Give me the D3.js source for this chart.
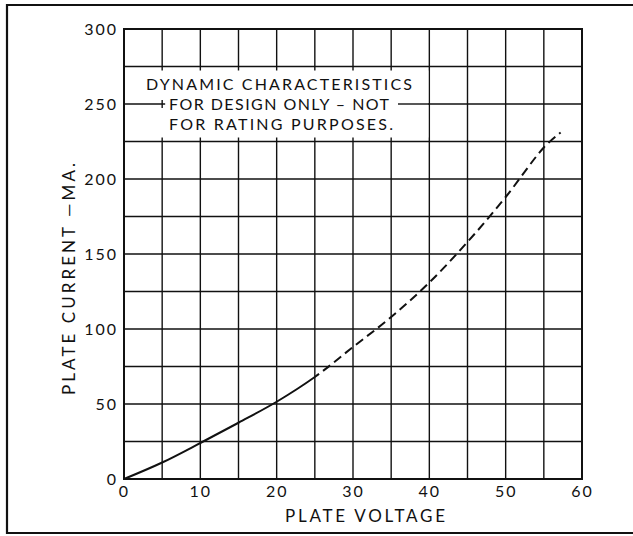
<!DOCTYPE html>
<html>
<head>
<meta charset="utf-8">
<script src="https://cdn.jsdelivr.net/npm/d3@7"></script>
<style>
  body { margin: 0; background: #fff; }
  text { font-family: Lato, "Liberation Sans", sans-serif; font-weight: 400; fill: #111; }
</style>
</head>
<body>
<div class="chart"></div>
<script>
// plate current vs plate voltage
const volts = [0, 5, 10, 15, 20, 25, 30, 35, 40, 45, 50, 55, 57.2];
const plateMa = [0, 11, 24, 37.5, 51.5, 68, 88, 108, 131, 158, 188, 221, 231];
const solidUpTo = 25; // dashed beyond this voltage

const xTicks = [0, 10, 20, 30, 40, 50, 60];
const yTicks = [0, 50, 100, 150, 200, 250, 300];
const noteLines = ['DYNAMIC CHARACTERISTICS', 'FOR DESIGN ONLY \u2013 NOT', 'FOR RATING PURPOSES.'];

const width = 633;
const height = 536;
const ff = 'Lato, "Liberation Sans", sans-serif';

const svg = d3.select('.chart')
  .append('svg')
  .attr('width', width)
  .attr('height', height)

const x = d3.scaleLinear().domain([0, 60]).range([124, 582]);
const y = d3.scaleLinear().domain([0, 300]).range([479, 29]);

// outer frame (right side runs off the page)
svg.append('path')
  .attr('d', 'M640,5 H7 V533 H640')
  .attr('fill', 'none')
  .attr('stroke', '#111')
  .attr('stroke-width', 2.2)

// grid every 5 V and 25 mA
const grid = svg.append('g')
grid.selectAll('.vline')
  .data(d3.range(5, 60, 5))
  .enter()
  .append('line')
  .attr('x1', d => x(d)).attr('x2', d => x(d))
  .attr('y1', y(0)).attr('y2', y(300))
  .attr('stroke', '#111').attr('stroke-width', 1.4)
grid.selectAll('.hline')
  .data(d3.range(25, 300, 25))
  .enter()
  .append('line')
  .attr('x1', x(0)).attr('x2', x(60))
  .attr('y1', d => y(d)).attr('y2', d => y(d))
  .attr('stroke', '#111').attr('stroke-width', 1.4)

// note box blanks out the grid between 225 and 275 mA, left of 40 V
svg.append('rect')
  .attr('x', x(0) + 1)
  .attr('y', y(275) + 4)
  .attr('width', x(40) - x(0) - 2)
  .attr('height', y(225) - y(275) - 8)
  .attr('fill', '#fff')

// bits of the 250 line that show beside the text
svg.append('line')
  .attr('x1', x(0)).attr('x2', x(5) + 3)
  .attr('y1', y(250)).attr('y2', y(250))
  .attr('stroke', '#111').attr('stroke-width', 1.4)
svg.append('line')
  .attr('x1', x(5)).attr('x2', x(5))
  .attr('y1', y(250) - 4).attr('y2', y(250) + 4)
  .attr('stroke', '#111').attr('stroke-width', 1.4)
svg.append('line')
  .attr('x1', 398).attr('x2', x(40))
  .attr('y1', y(250)).attr('y2', y(250))
  .attr('stroke', '#111').attr('stroke-width', 1.4)

svg.selectAll('.note')
  .data(noteLines)
  .enter()
  .append('text')
  .attr('x', (d, i) => i == 0 ? 146 : 169)
  .attr('y', (d, i) => 90 + i * 20)
  .attr('font-size', 16)
  .attr('textLength', (d, i) => [266, 220, 224][i])
  .attr('lengthAdjust', 'spacing')
  .text(d => d)

// plot border
svg.append('rect')
  .attr('x', x(0)).attr('y', y(300))
  .attr('width', x(60) - x(0))
  .attr('height', y(0) - y(300))
  .attr('fill', 'none')
  .attr('stroke', '#111')
  .attr('stroke-width', 2)

// curve: one smooth path, clipped into a solid and a dashed part
const line = d3.line()
  .x(d => x(d[0]))
  .y(d => y(d[1]))
  .curve(d3.curveCatmullRom)
const pts = volts.map((v, i) => [v, plateMa[i]])

const defs = svg.append('defs')
defs.append('clipPath').attr('id', 'solidPart')
  .append('rect')
  .attr('x', 0).attr('y', 0)
  .attr('width', x(solidUpTo)).attr('height', height)
defs.append('clipPath').attr('id', 'dashPart')
  .append('rect')
  .attr('x', x(solidUpTo)).attr('y', 0)
  .attr('width', width).attr('height', height)

svg.append('path')
  .attr('d', line(pts))
  .attr('clip-path', 'url(#solidPart)')
  .attr('fill', 'none')
  .attr('stroke', '#111')
  .attr('stroke-width', 2)
svg.append('path')
  .attr('d', line(pts))
  .attr('clip-path', 'url(#dashPart)')
  .attr('fill', 'none')
  .attr('stroke', '#111')
  .attr('stroke-width', 2)
  .attr('stroke-dasharray', '9,5')
  .attr('stroke-dashoffset', -3)

// axes: labels only, the grid is drawn above
const xAxis = svg.append('g')
  .attr('transform', 'translate(0,' + y(0) + ')')
  .call(d3.axisBottom(x).tickValues(xTicks).tickSize(0).tickPadding(7))
xAxis.select('.domain').remove()
xAxis.selectAll('text')
  .attr('font-size', 16)
  .attr('letter-spacing', 2)
  .attr('font-family', ff)
  .attr('fill', '#111')

const yAxis = svg.append('g')
  .attr('transform', 'translate(' + x(0) + ',0)')
  .call(d3.axisLeft(y).tickValues(yTicks).tickSize(0).tickPadding(6))
yAxis.select('.domain').remove()
yAxis.selectAll('text')
  .attr('font-size', 16)
  .attr('letter-spacing', 2)
  .attr('font-family', ff)
  .attr('fill', '#111')

svg.append('text')
  .attr('x', 365)
  .attr('y', 522)
  .attr('text-anchor', 'middle')
  .attr('font-size', 17)
  .attr('textLength', 160)
  .attr('lengthAdjust', 'spacing')
  .text('PLATE VOLTAGE')

svg.append('text')
  .attr('transform', 'translate(75,279) rotate(-90)')
  .attr('text-anchor', 'middle')
  .attr('font-size', 17)
  .attr('textLength', 232)
  .attr('lengthAdjust', 'spacing')
  .text('PLATE CURRENT \u2014MA.')
</script>
</body>
</html>
